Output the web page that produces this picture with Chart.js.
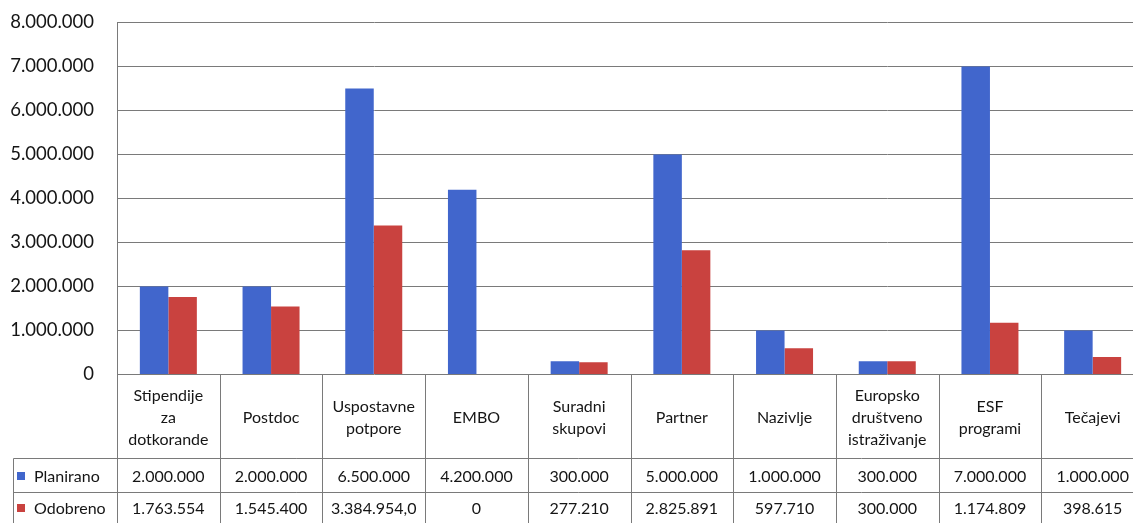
<!DOCTYPE html>
<html>
<head>
<meta charset="utf-8">
<script src="https://cdn.jsdelivr.net/npm/chart.js@4"></script>
<style>
html,body{margin:0;padding:0;background:#fff;overflow:hidden;}
#wrap{position:absolute;left:0;top:0;width:1150px;height:523px;}
</style>
</head>
<body>
<div id="wrap"><canvas id="c" width="1150" height="523"></canvas></div>
<script>
const categories = [
  ["Stipendije","za","dotkorande"],
  ["Postdoc"],
  ["Uspostavne","potpore"],
  ["EMBO"],
  ["Suradni","skupovi"],
  ["Partner"],
  ["Nazivlje"],
  ["Europsko","društveno","istraživanje"],
  ["ESF","programi"],
  ["Tečajevi"]
];
const seriesNames = ["Planirano","Odobreno"];
const planirano = [2000000,2000000,6500000,4200000,300000,5000000,1000000,300000,7000000,1000000];
const odobreno  = [1763554,1545400,3384954,0,277210,2825891,597710,300000,1174809,398615];
const planiranoLabels = ["2.000.000","2.000.000","6.500.000","4.200.000","300.000","5.000.000","1.000.000","300.000","7.000.000","1.000.000"];
const odobrenoLabels  = ["1.763.554","1.545.400","3.384.954,0","0","277.210","2.825.891","597.710","300.000","1.174.809","398.615"];
const yTicks = [0,1000000,2000000,3000000,4000000,5000000,6000000,7000000,8000000];

const BLUE = "#4166cc";
const RED = "#c9423f";
const LINE = "#7a7a7a";
const TEXT = "#151515";
const FONT = "Lato, 'Open Sans', sans-serif";

function fmt(v){ return v.toString().replace(/\B(?=(\d{3})+(?!\d))/g, "."); }

const tablePlugin = {
  id: "dataTable",
  afterDraw(chart){
    const ctx = chart.ctx;
    const x = chart.scales.x;
    const area = chart.chartArea;
    const n = categories.length;
    const colW = (area.right - area.left) / n;
    const top = area.bottom;
    const row1 = 458.5;
    const row2 = 492.5;
    const bottom = 526;
    const legLeft = 13.5;
    ctx.save();
    ctx.strokeStyle = LINE;
    ctx.lineWidth = 1;
    ctx.beginPath();
    for (let i = 0; i <= n; i++) {
      const px = Math.round(area.left + i * colW) + 0.5;
      ctx.moveTo(px, top); ctx.lineTo(px, bottom);
    }
    ctx.moveTo(legLeft, row1); ctx.lineTo(legLeft, bottom);
    ctx.moveTo(legLeft, row1); ctx.lineTo(area.right, row1);
    ctx.moveTo(legLeft, row2); ctx.lineTo(area.right, row2);
    ctx.stroke();

    ctx.fillStyle = TEXT;
    ctx.textAlign = "center";
    ctx.textBaseline = "middle";
    ctx.font = "16px " + FONT;
    const lh = 22;
    const catMid = (top + row1) / 2 + 1;
    for (let i = 0; i < n; i++) {
      const cx = x.getPixelForValue(i);
      const lines = categories[i];
      const start = catMid - (lines.length - 1) * lh / 2;
      lines.forEach((t, k) => ctx.fillText(t, cx, start + k * lh));
      ctx.fillText(planiranoLabels[i], cx, (row1 + row2) / 2 + 1);
      ctx.fillText(odobrenoLabels[i], cx, (row2 + 523) / 2 + 1);
    }
    const rows = [[(row1 + row2) / 2, BLUE, seriesNames[0]], [(row2 + 523) / 2, RED, seriesNames[1]]];
    ctx.textAlign = "left";
    rows.forEach(([cy, col, name]) => {
      ctx.fillStyle = col;
      ctx.fillRect(17, Math.round(cy - 4), 8, 8);
      ctx.fillStyle = TEXT;
      ctx.fillText(name, 34, cy + 1);
    });
    ctx.restore();
  }
};

new Chart(document.getElementById("c"), {
  type: "bar",
  data: {
    labels: categories.map(c => c.join(" ")),
    datasets: [
      { label: seriesNames[0], data: planirano, backgroundColor: BLUE, borderWidth: 0 },
      { label: seriesNames[1], data: odobreno, backgroundColor: RED, borderWidth: 0 }
    ]
  },
  options: {
    responsive: false,
    animation: false,
    events: [],
    layout: { padding: { top: 22.5, right: 6, left: 0, bottom: 0 } },
    categoryPercentage: 0.555,
    barPercentage: 1.0,
    plugins: { legend: { display: false }, tooltip: { enabled: false } },
    scales: {
      x: {
        ticks: { display: false },
        grid: { display: false, drawTicks: false },
        border: { display: false },
        afterFit(s){ s.height = 148.5; s.paddingLeft = 0; s.paddingRight = 0; }
      },
      y: {
        min: 0, max: 8000000,
        afterBuildTicks(s){ s.ticks = yTicks.map(v => ({ value: v })); },
        ticks: {
          callback: v => fmt(v),
          font: { family: FONT, size: 18.5 },
          color: TEXT,
          padding: 23
        },
        grid: { color: LINE, lineWidth: 1, drawTicks: false },
        border: { display: true, color: LINE, width: 1 },
        afterFit(s){ s.width = 117; s.paddingTop = 0; s.paddingBottom = 0; }
      }
    }
  },
  plugins: [tablePlugin]
});
</script>
</body>
</html>
